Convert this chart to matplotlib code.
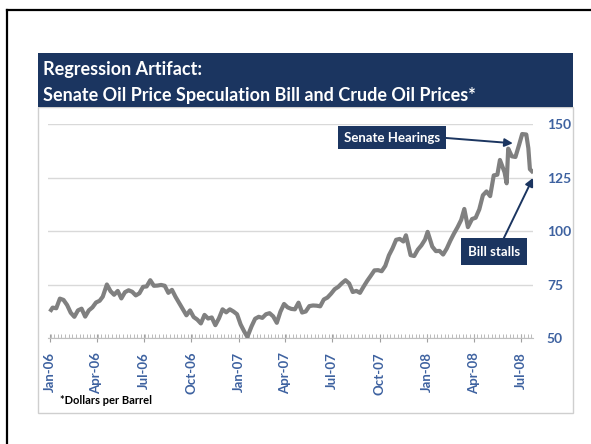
import numpy as np
import matplotlib
matplotlib.use("Agg")
import matplotlib.pyplot as plt
import matplotlib.dates as mdates
from matplotlib.patches import Rectangle
from matplotlib.lines import Line2D

plt.rcParams['font.family'] = ['Lato', 'DejaVu Sans']

# crude oil price, dollars per barrel (roughly weekly)
dates_2006 = ["2006-01-03", "2006-01-06", "2006-01-13", "2006-01-20", "2006-01-27", "2006-02-03",
              "2006-02-10", "2006-02-17", "2006-02-24", "2006-03-03", "2006-03-10", "2006-03-17",
              "2006-03-24", "2006-03-31", "2006-04-07", "2006-04-13", "2006-04-21", "2006-04-28",
              "2006-05-05", "2006-05-12", "2006-05-19", "2006-05-26", "2006-06-02", "2006-06-09",
              "2006-06-16", "2006-06-23", "2006-06-30", "2006-07-07", "2006-07-14", "2006-07-21",
              "2006-07-28", "2006-08-04", "2006-08-11", "2006-08-18", "2006-08-25", "2006-09-01",
              "2006-09-08", "2006-09-15", "2006-09-22", "2006-09-29", "2006-10-06", "2006-10-13",
              "2006-10-20", "2006-10-27", "2006-11-03", "2006-11-10", "2006-11-17", "2006-11-24",
              "2006-12-01", "2006-12-08", "2006-12-15", "2006-12-22", "2006-12-29"]
price_2006 = [63.1, 64.2, 63.9, 68.4, 67.8, 65.4,
              61.8, 59.9, 62.9, 63.7, 60.0, 62.9,
              64.3, 66.6, 67.4, 69.3, 75.0, 71.9,
              70.2, 72.0, 68.5, 71.4, 72.3, 71.6,
              69.9, 70.9, 73.9, 74.1, 77.0, 74.4,
              74.5, 74.8, 74.4, 71.1, 72.5, 69.2,
              66.3, 63.3, 60.6, 62.9, 59.8, 58.6,
              56.8, 60.8, 59.1, 59.6, 56.0, 59.2,
              63.4, 62.0, 63.4, 62.4, 61.1]

dates_2007 = ["2007-01-05", "2007-01-12", "2007-01-18", "2007-01-26", "2007-02-02", "2007-02-09",
              "2007-02-16", "2007-02-23", "2007-03-02", "2007-03-09", "2007-03-16", "2007-03-23",
              "2007-03-30", "2007-04-06", "2007-04-13", "2007-04-20", "2007-04-27", "2007-05-04",
              "2007-05-11", "2007-05-18", "2007-05-25", "2007-06-01", "2007-06-08", "2007-06-15",
              "2007-06-22", "2007-06-29", "2007-07-06", "2007-07-13", "2007-07-20", "2007-07-27",
              "2007-08-03", "2007-08-10", "2007-08-17", "2007-08-24", "2007-08-31", "2007-09-07",
              "2007-09-14", "2007-09-21", "2007-09-28", "2007-10-05", "2007-10-12", "2007-10-19",
              "2007-10-26", "2007-11-02", "2007-11-09", "2007-11-16", "2007-11-21", "2007-11-30",
              "2007-12-07", "2007-12-14", "2007-12-21", "2007-12-28"]
price_2007 = [56.3, 53.0, 50.5, 55.4, 59.0, 59.9,
              59.4, 61.1, 61.6, 60.1, 57.1, 62.3,
              65.9, 64.3, 63.6, 63.4, 66.5, 61.9,
              62.4, 64.9, 65.2, 65.1, 64.8, 68.0,
              68.9, 70.7, 72.8, 73.9, 75.6, 77.0,
              75.5, 71.5, 72.0, 71.1, 74.0, 76.7,
              79.1, 81.6, 81.7, 81.2, 83.7, 88.6,
              91.9, 95.9, 96.3, 95.1, 98.0, 88.7,
              88.3, 91.3, 93.3, 96.0]

dates_2008 = ["2008-01-02", "2008-01-11", "2008-01-18", "2008-01-25", "2008-02-01", "2008-02-08",
              "2008-02-15", "2008-02-22", "2008-02-29", "2008-03-07", "2008-03-13", "2008-03-20",
              "2008-03-28", "2008-04-04", "2008-04-11", "2008-04-18", "2008-04-25", "2008-05-02",
              "2008-05-09", "2008-05-16", "2008-05-21", "2008-05-30", "2008-06-03", "2008-06-06",
              "2008-06-13", "2008-06-20", "2008-06-27", "2008-07-03", "2008-07-11", "2008-07-15",
              "2008-07-18", "2008-07-22"]
price_2008 = [99.6, 92.7, 90.6, 90.7, 89.0, 91.8,
              95.5, 98.8, 101.8, 105.2, 110.3, 101.8,
              105.6, 106.2, 110.1, 116.7, 118.5, 116.3,
              126.0, 126.3, 133.2, 127.4, 122.3, 138.5,
              134.9, 134.6, 140.2, 145.3, 145.1, 138.7,
              128.9, 127.9]

y_ticks = [50, 75, 100, 125, 150]

# annotation targets
hearings_point = ("2008-06-15", 141)
stalls_point = ("2008-07-24", 124.8)

W, H = 591, 444
navy = '#1b3560'
blue_txt = '#3e62a0'


def fx(px):
    return px / W


def fy(py):
    return 1 - py / H


dates = np.array(dates_2006 + dates_2007 + dates_2008, dtype='datetime64[D]')
prices = np.array(price_2006 + price_2007 + price_2008)

fig = plt.figure(figsize=(W / 100, H / 100), dpi=100)

# outer black frame (runs off the right and bottom edges)
fig.add_artist(Line2D([fx(7), fx(7)], [0, fy(10)], color='black', lw=1.6))
fig.add_artist(Line2D([fx(7), 1], [fy(10), fy(10)], color='black', lw=1.6))

# chart panel and header band
fig.add_artist(Rectangle((fx(38), fy(413)), fx(573) - fx(38), fy(107) - fy(413),
                         transform=fig.transFigure, facecolor='white',
                         edgecolor='#cfcfcf', lw=1, zorder=-2))
fig.add_artist(Rectangle((fx(38), fy(107)), fx(573) - fx(38), fy(53) - fy(107),
                         transform=fig.transFigure, facecolor=navy,
                         edgecolor='none', zorder=-1))
fig.text(fx(43), fy(70), "Regression Artifact:", color='white', fontsize=13,
         fontweight='bold', va='center')
fig.text(fx(43), fy(95), "Senate Oil Price Speculation Bill and Crude Oil Prices*",
         color='white', fontsize=13, fontweight='bold', va='center')
fig.text(fx(60), fy(400), "*Dollars per Barrel", color='black', fontsize=8,
         fontweight='bold', va='center')

ax = fig.add_axes([fx(48), fy(338), fx(533) - fx(48), fy(124) - fy(338)])
ax.patch.set_alpha(0)
ax.plot(dates, prices, color='#808080', lw=3.0, solid_joinstyle='round', zorder=3)

ax.set_xlim(np.datetime64("2005-12-28"), np.datetime64("2008-07-24"))
ax.set_ylim(50, 150)
ax.set_yticks(y_ticks)
ax.yaxis.tick_right()
ax.tick_params(axis='y', length=0, pad=10, labelcolor=blue_txt, labelsize=10)
for lab in ax.get_yticklabels():
    lab.set_fontweight('bold')
ax.grid(axis='y', color='#d9d9d9', lw=1)
ax.set_axisbelow(True)

ax.xaxis.set_major_locator(mdates.MonthLocator(bymonth=[1, 4, 7, 10]))
ax.xaxis.set_major_formatter(mdates.DateFormatter('%b-%y'))
ax.xaxis.set_minor_locator(mdates.DayLocator(interval=7))
ax.tick_params(axis='x', which='major', direction='inout', length=6, color='#a0a0a0',
               pad=7, labelcolor=blue_txt, labelsize=9.5, labelrotation=90)
ax.tick_params(axis='x', which='minor', direction='in', length=3, color='#b0b0b0')
for lab in ax.get_xticklabels():
    lab.set_fontweight('bold')

for side in ['top', 'left', 'right']:
    ax.spines[side].set_visible(False)
ax.spines['bottom'].set_color('#c0c0c0')

# annotations
ax.annotate("Senate Hearings", xy=(np.datetime64(hearings_point[0]), hearings_point[1]),
            xytext=(392, H - 137.5), textcoords='figure pixels',
            ha='center', va='center', color='white', fontsize=9.5, fontweight='bold',
            bbox=dict(boxstyle='square,pad=0.45', fc=navy, ec='none'),
            arrowprops=dict(arrowstyle='-|>', color=navy, lw=1.4, relpos=(1, 0.5),
                            shrinkA=0, shrinkB=0, mutation_scale=12),
            annotation_clip=False, zorder=5)
ax.annotate("Bill stalls", xy=(np.datetime64(stalls_point[0]), stalls_point[1]),
            xytext=(494, H - 251.5), textcoords='figure pixels',
            ha='center', va='center', color='white', fontsize=9.5, fontweight='bold',
            bbox=dict(boxstyle='square,pad=0.55', fc=navy, ec='none'),
            arrowprops=dict(arrowstyle='-|>', color=navy, lw=1.4, relpos=(0.62, 1),
                            shrinkA=0, shrinkB=0, mutation_scale=12),
            annotation_clip=False, zorder=5)

fig.savefig("out.png", dpi=100)
